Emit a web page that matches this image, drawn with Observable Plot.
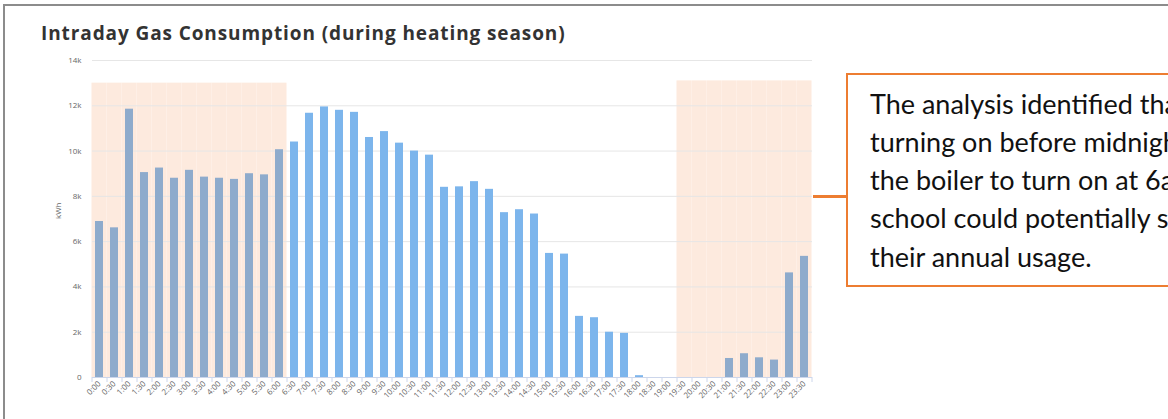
<!DOCTYPE html>
<html><head><meta charset="utf-8">
<script src="https://cdn.jsdelivr.net/npm/d3@7"></script>
<script src="https://cdn.jsdelivr.net/npm/@observablehq/plot@0.6"></script>
<style>
html,body{margin:0;padding:0;background:#fff;overflow:hidden;width:1168px;height:419px;position:relative;}
#frame{position:absolute;left:3px;top:4px;width:1400px;height:700px;border:2px solid #8c8c8c;box-sizing:border-box;}
#title{position:absolute;left:41px;top:20px;font-family:"Open Sans";font-weight:700;font-size:19px;letter-spacing:0.9px;color:#333;white-space:nowrap;}
#chart{position:absolute;left:0;top:50px;}
#note{position:absolute;left:846px;top:73px;width:420px;height:214px;border:2px solid #ed7d31;box-sizing:border-box;background:#fff;font-family:Lato;font-size:27px;line-height:38.3px;padding:9.5px 0 0 22px;color:#111;}
#note div{white-space:nowrap;}
#conn{position:absolute;left:813px;top:194.5px;width:33px;height:3px;background:#ed7d31;}
</style></head>
<body>
<div id="frame"></div>
<div id="title">Intraday Gas Consumption (during heating season)</div>
<div id="chart"></div>
<div id="conn"></div>
<div id="note">
<div>The analysis identified that</div>
<div>turning on before midnight</div>
<div>the boiler to turn on at 6am</div>
<div>school could potentially save</div>
<div>their annual usage.</div>
</div>
<script>
const times = ["0:00","0:30","1:00","1:30","2:00","2:30","3:00","3:30","4:00","4:30","5:00","5:30",
"6:00","6:30","7:00","7:30","8:00","8:30","9:00","9:30","10:00","10:30","11:00","11:30",
"12:00","12:30","13:00","13:30","14:00","14:30","15:00","15:30","16:00","16:30","17:00","17:30",
"18:00","18:30","19:00","19:30","20:00","20:30","21:00","21:30","22:00","22:30","23:00","23:30"];
const consumption = [6890,6610,11850,9050,9250,8800,9150,8850,8800,8750,9000,8950,
10060,10400,11670,11950,11800,11710,10600,10860,10350,10000,9820,8400,
8420,8650,8310,7280,7410,7220,5480,5450,2700,2640,2000,1950,
80,0,0,0,0,0,840,1050,870,770,4620,5350];
const shadeFrom = ["0:00","19:30"];
const shadeTo = ["6:00","23:30"];
const shadeTop = [13000,13100];
const yTicks = [0,2000,4000,6000,8000,10000,12000,14000];

const shadeRows = [];
shadeFrom.forEach((f,k)=>{
  for(let i=times.indexOf(f);i<=times.indexOf(shadeTo[k]);i++) shadeRows.push({time:times[i],top:shadeTop[k]});
});
const inShade = new Set(shadeRows.map(d=>d.time));
const rows = times.map((t,i)=>({time:t,kwh:consumption[i],shaded:inShade.has(t)}));

const chart = Plot.plot({
  width:840,height:369,marginLeft:92,marginRight:28,marginTop:10,marginBottom:42,
  style:{fontFamily:"Open Sans",fontSize:"8px",color:"#666",background:"transparent"},
  x:{type:"band",domain:times,paddingInner:0.44,paddingOuter:0.22,label:null},
  y:{domain:[0,14000],label:null},
  marks:[
    Plot.barY(shadeRows,{x:"time",y:"top",fill:"#fdeade",insetLeft:-3.5,insetRight:-3.5}),
    Plot.gridY(yTicks,{stroke:"#e6e6e6",strokeOpacity:1}),
    Plot.barY(rows,{x:"time",y:"kwh",fill:d=>d.shaded?"#8eabcc":"#7cb5ec"}),
    Plot.ruleY([0],{stroke:"#ccd6eb"}),
    Plot.axisY({ticks:yTicks,tickSize:0,tickPadding:11,tickFormat:d=>d===0?"0":d/1000+"k",fill:"#666",fontSize:8}),
    Plot.axisX({tickSize:5,tickFormat:()=>"",stroke:"#ccd6eb",dx:-7.5}),
    Plot.axisX([times[times.length-1]],{tickSize:5,tickFormat:()=>"",stroke:"#ccd6eb",dx:7.5}),
    Plot.axisX({tickSize:0,tickRotate:-45,tickPadding:5,fill:"#666",fontSize:8}),
    Plot.text(["kWh"],{frameAnchor:"left",dx:-34,rotate:-90,fill:"#666",fontSize:8})
  ]
});
document.getElementById("chart").appendChild(chart);
</script>
</body></html>
